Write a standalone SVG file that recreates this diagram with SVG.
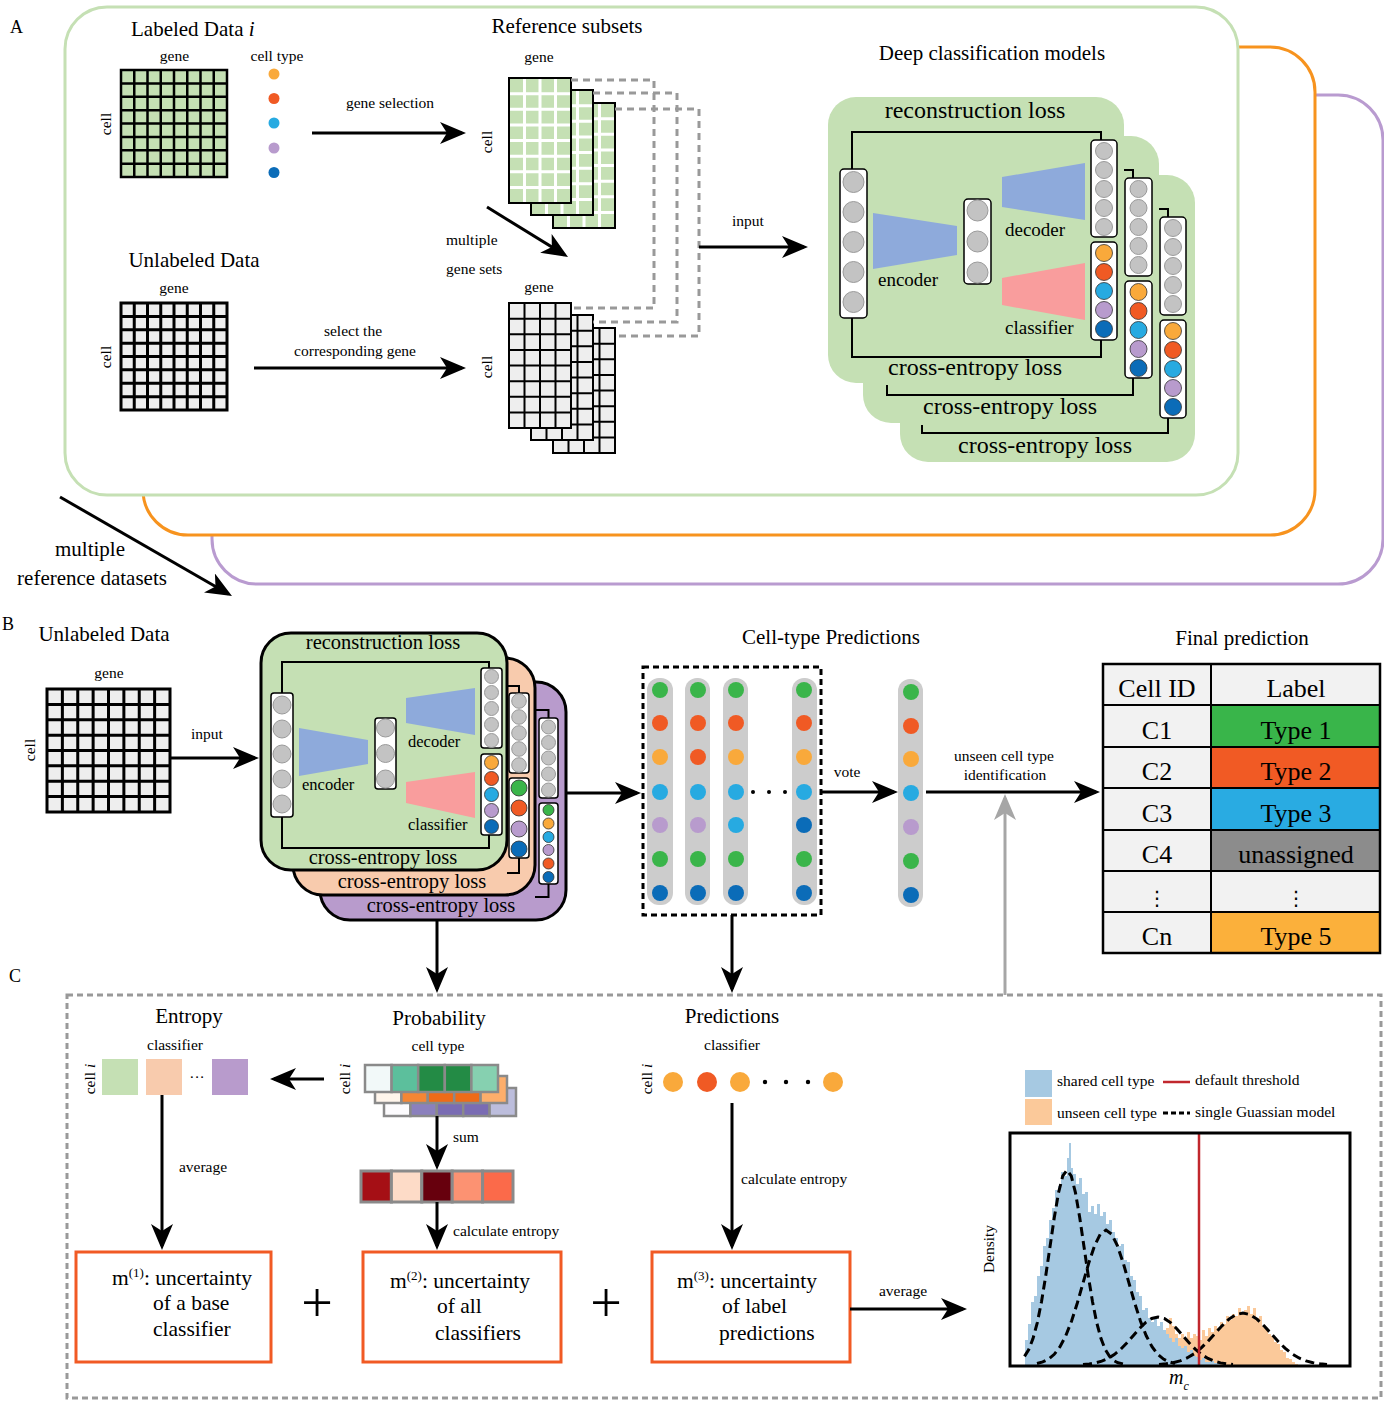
<svg xmlns="http://www.w3.org/2000/svg" xmlns:xlink="http://www.w3.org/1999/xlink" width="1384" height="1401" viewBox="0 0 1384 1401">
<style>
text{font-family:"Liberation Serif","Times New Roman",serif;fill:#000}
.s15{font-size:15.5px}
.s21{font-size:21px}
.s24{font-size:24px}
.s19{font-size:19px}
.s20b{font-size:20.5px}
.s16{font-size:16.5px}
.s26{font-size:26px}
.s22{font-size:21.5px}
.m{text-anchor:middle}
.ln{stroke:#000;stroke-width:3;fill:none}
.arr{stroke:#000;stroke-width:3;fill:none;marker-end:url(#ah)}
.br{stroke:#000;stroke-width:2;fill:none}
.box{fill:#fff;stroke:#000;stroke-width:1.5}
.gc{fill:#c3c3c3;stroke:#9a9a9a;stroke-width:1}
.cc{stroke:#333;stroke-width:0.8}
.OR{fill:#f9a93b}.RD{fill:#f05a24}.SK{fill:#27aae1}.PU{fill:#b89bcd}.BL{fill:#0b6cb8}.GR{fill:#3ab54a}
.enc{fill:#8eaadb}.cls{fill:#f99d9d}
.pc{fill:#cccccc}
.ob{fill:#fff;stroke:#f15a24;stroke-width:3}
.gd{stroke:#999;stroke-width:3;fill:none;stroke-dasharray:7 5}
</style>
<defs>
<marker id="ah" markerUnits="userSpaceOnUse" markerWidth="26" markerHeight="22" refX="22" refY="11" orient="auto" viewBox="0 0 26 22"><path d="M0,0 L26,11 L0,22 L7,11 Z" fill="#000"/></marker>
<marker id="ahg" markerUnits="userSpaceOnUse" markerWidth="26" markerHeight="22" refX="22" refY="11" orient="auto" viewBox="0 0 26 22"><path d="M0,0 L26,11 L0,22 L7,11 Z" fill="#a6a6a6"/></marker>
<path id="g8" d="M0,0H8V8H0Z M1,0V8M2,0V8M3,0V8M4,0V8M5,0V8M6,0V8M7,0V8 M0,1H8M0,2H8M0,3H8M0,4H8M0,5H8M0,6H8M0,7H8" vector-effect="non-scaling-stroke"/>
<path id="g48" d="M1,0V8M2,0V8M3,0V8 M0,1H4M0,2H4M0,3H4M0,4H4M0,5H4M0,6H4M0,7H4" vector-effect="non-scaling-stroke"/>
</defs>
<rect width="1384" height="1401" fill="#fff"/>

<!-- Panel A frames -->
<g id="panelA-frames">
<rect x="212" y="95" width="1171" height="489" rx="45" fill="#fff" stroke="#b99bd0" stroke-width="3"/>
<rect x="143" y="47" width="1172" height="488" rx="45" fill="#fff" stroke="#f7931e" stroke-width="3"/>
<rect x="65" y="7" width="1173" height="488" rx="42" fill="#fff" stroke="#c5e0b4" stroke-width="3"/>
</g>
<text x="10" y="33" style="font-size:18px">A</text>

<g id="labeled-data">
<text x="131" y="36" class="s21">Labeled Data <tspan font-style="italic">i</tspan></text>
<text x="174.5" y="61" class="s15 m">gene</text>
<text transform="translate(111,124) rotate(-90)" class="s15 m">cell</text>
<use href="#g8" transform="translate(121,70) scale(13.25,13.375)" fill="#c5e0b4" stroke="#000" stroke-width="2.5"/>
<text x="277" y="61" class="s15 m">cell type</text>
<circle cx="274" cy="74" r="5.5" class="OR"/>
<circle cx="274" cy="98.5" r="5.5" class="RD"/>
<circle cx="274" cy="123" r="5.5" class="SK"/>
<circle cx="274" cy="148" r="5.5" class="PU"/>
<circle cx="274" cy="172.5" r="5.5" class="BL"/>
</g>

<g id="unlabeled-data-A">
<text x="194" y="267" class="s21 m">Unlabeled Data</text>
<text x="174" y="293" class="s15 m">gene</text>
<text transform="translate(111,357) rotate(-90)" class="s15 m">cell</text>
<use href="#g8" transform="translate(121,303) scale(13.25,13.375)" fill="#eeeeee" stroke="#000" stroke-width="3"/>
</g>

<g id="reference-subsets">
<text x="567" y="33" class="s21 m">Reference subsets</text>
<text x="539" y="62" class="s15 m">gene</text>
<text transform="translate(492,142) rotate(-90)" class="s15 m">cell</text>
<rect x="553" y="103" width="62" height="125" fill="#c5e0b4"/>
<use href="#g48" transform="translate(553,103) scale(15.5,15.625)" stroke="#fff" stroke-width="3" fill="none"/>
<rect x="553" y="103" width="62" height="125" fill="none" stroke="#000" stroke-width="2"/>
<rect x="531" y="90" width="62" height="125" fill="#c5e0b4"/>
<use href="#g48" transform="translate(531,90) scale(15.5,15.625)" stroke="#fff" stroke-width="3" fill="none"/>
<rect x="531" y="90" width="62" height="125" fill="none" stroke="#000" stroke-width="2"/>
<rect x="509" y="78" width="62" height="125" fill="#c5e0b4"/>
<use href="#g48" transform="translate(509,78) scale(15.5,15.625)" stroke="#fff" stroke-width="3" fill="none"/>
<rect x="509" y="78" width="62" height="125" fill="none" stroke="#000" stroke-width="2"/>

<text x="539" y="292" class="s15 m">gene</text>
<text transform="translate(492,367) rotate(-90)" class="s15 m">cell</text>
<rect x="553" y="328" width="62" height="125" fill="#eeeeee" stroke="#000" stroke-width="2"/>
<use href="#g48" transform="translate(553,328) scale(15.5,15.625)" stroke="#000" stroke-width="2" fill="none"/>
<rect x="531" y="315" width="62" height="125" fill="#eeeeee" stroke="#000" stroke-width="2"/>
<use href="#g48" transform="translate(531,315) scale(15.5,15.625)" stroke="#000" stroke-width="2" fill="none"/>
<rect x="509" y="303" width="62" height="125" fill="#eeeeee" stroke="#000" stroke-width="2"/>
<use href="#g48" transform="translate(509,303) scale(15.5,15.625)" stroke="#000" stroke-width="2" fill="none"/>
</g>

<g id="deep-models-A">
<text x="992" y="60" class="s21 m">Deep classification models</text>
<rect x="900" y="175" width="295" height="287" rx="28" fill="#c5e0b4"/>
<rect x="863" y="136" width="296" height="287" rx="28" fill="#c5e0b4"/>
<rect x="828" y="97" width="296" height="286" rx="28" fill="#c5e0b4"/>
<!-- panel 3 -->
<path class="br" d="M1159,209 H1168 V217 M1168,418 V433 H922 V425"/>
<rect x="1160" y="217" width="26" height="98" rx="4" class="box"/>
<circle cx="1173" cy="228" r="8.5" class="gc"/><circle cx="1173" cy="247" r="8.5" class="gc"/><circle cx="1173" cy="266" r="8.5" class="gc"/><circle cx="1173" cy="285" r="8.5" class="gc"/><circle cx="1173" cy="304" r="8.5" class="gc"/>
<rect x="1160" y="320" width="26" height="98" rx="4" class="box"/>
<circle cx="1173" cy="331" r="8.5" class="OR cc"/><circle cx="1173" cy="350" r="8.5" class="RD cc"/><circle cx="1173" cy="369" r="8.5" class="SK cc"/><circle cx="1173" cy="388" r="8.5" class="PU cc"/><circle cx="1173" cy="407" r="8.5" class="BL cc"/>
<text x="1045" y="453" class="s24 m">cross-entropy loss</text>
<!-- panel 2 -->
<path class="br" d="M1124,170 H1133 V178 M1133,378 V395 H887 V385"/>
<rect x="1125" y="178" width="27" height="98" rx="4" class="box"/>
<circle cx="1138.5" cy="189" r="8.5" class="gc"/><circle cx="1138.5" cy="208" r="8.5" class="gc"/><circle cx="1138.5" cy="227" r="8.5" class="gc"/><circle cx="1138.5" cy="246" r="8.5" class="gc"/><circle cx="1138.5" cy="265" r="8.5" class="gc"/>
<rect x="1125" y="281" width="27" height="97" rx="4" class="box"/>
<circle cx="1138.5" cy="292" r="8.5" class="OR cc"/><circle cx="1138.5" cy="311" r="8.5" class="RD cc"/><circle cx="1138.5" cy="330" r="8.5" class="SK cc"/><circle cx="1138.5" cy="349" r="8.5" class="PU cc"/><circle cx="1138.5" cy="368" r="8.5" class="BL cc"/>
<text x="1010" y="414" class="s24 m">cross-entropy loss</text>
<!-- panel 1 -->
<text x="975" y="118" class="s24 m">reconstruction loss</text>
<path class="br" d="M852,169 V132 H1101 V140 M852,318 V357 H1101 V340"/>
<rect x="840" y="169" width="27" height="149" rx="4" class="box"/>
<circle cx="853.5" cy="182" r="10.5" class="gc"/><circle cx="853.5" cy="212" r="10.5" class="gc"/><circle cx="853.5" cy="242" r="10.5" class="gc"/><circle cx="853.5" cy="272" r="10.5" class="gc"/><circle cx="853.5" cy="302" r="10.5" class="gc"/>
<polygon points="873,213 957,226 957,255 873,269" class="enc"/>
<text x="878" y="286" class="s19">encoder</text>
<rect x="964" y="199" width="27" height="85" rx="4" class="box"/>
<circle cx="977.5" cy="210.5" r="10.5" class="gc"/><circle cx="977.5" cy="241.5" r="10.5" class="gc"/><circle cx="977.5" cy="272.5" r="10.5" class="gc"/>
<polygon points="1002,177 1085,163 1085,220 1002,207" class="enc"/>
<text x="1005" y="236" class="s19">decoder</text>
<polygon points="1002,278 1085,263 1085,320 1002,305" class="cls"/>
<text x="1005" y="334" class="s19">classifier</text>
<rect x="1091" y="140" width="26" height="97" rx="4" class="box"/>
<circle cx="1104" cy="151" r="8.5" class="gc"/><circle cx="1104" cy="170" r="8.5" class="gc"/><circle cx="1104" cy="189" r="8.5" class="gc"/><circle cx="1104" cy="208" r="8.5" class="gc"/><circle cx="1104" cy="227" r="8.5" class="gc"/>
<rect x="1091" y="242" width="26" height="98" rx="4" class="box"/>
<circle cx="1104" cy="253" r="8.5" class="OR cc"/><circle cx="1104" cy="272" r="8.5" class="RD cc"/><circle cx="1104" cy="291" r="8.5" class="SK cc"/><circle cx="1104" cy="310" r="8.5" class="PU cc"/><circle cx="1104" cy="329" r="8.5" class="BL cc"/>
<text x="975" y="375" class="s24 m">cross-entropy loss</text>
</g>

<text x="90" y="556" class="s21 m">multiple</text>
<text x="92" y="585" class="s21 m">reference datasets</text>

<!-- Panel B -->
<text x="2" y="630" style="font-size:18px">B</text>
<g id="unlabeled-data-B">
<text x="104" y="641" class="s21 m">Unlabeled Data</text>
<text x="109" y="678" class="s15 m">gene</text>
<text transform="translate(35,750) rotate(-90)" class="s15 m">cell</text>
<use href="#g8" transform="translate(47,689) scale(15.375,15.375)" fill="#eeeeee" stroke="#000" stroke-width="3"/>
</g>

<g id="models-B">
<rect x="320" y="682" width="246" height="238" rx="30" fill="#b89bcc" stroke="#000" stroke-width="3"/>
<path class="br" d="M535,710 H548.5 V718 M548.5,884 V897 H535"/>
<rect x="539" y="718" width="19" height="80" rx="3" class="box"/>
<circle cx="548.5" cy="727" r="7" class="gc"/><circle cx="548.5" cy="742.5" r="7" class="gc"/><circle cx="548.5" cy="758" r="7" class="gc"/><circle cx="548.5" cy="774" r="7" class="gc"/><circle cx="548.5" cy="790" r="7" class="gc"/>
<rect x="539" y="803" width="19" height="81" rx="3" class="box"/>
<circle cx="548.5" cy="810" r="5.5" class="GR cc"/><circle cx="548.5" cy="823.5" r="5.5" class="OR cc"/><circle cx="548.5" cy="837" r="5.5" class="SK cc"/><circle cx="548.5" cy="850" r="5.5" class="PU cc"/><circle cx="548.5" cy="863.5" r="5.5" class="RD cc"/><circle cx="548.5" cy="877" r="5.5" class="BL cc"/>
<text x="441" y="912" class="s20b m">cross-entropy loss</text>

<rect x="293" y="658" width="242" height="237" rx="30" fill="#f8cbad" stroke="#000" stroke-width="3"/>
<path class="br" d="M507,686 H519 V693 M519,858 V873 H507"/>
<rect x="509" y="693" width="20" height="80" rx="3" class="box"/>
<circle cx="519" cy="701" r="7.3" class="gc"/><circle cx="519" cy="717" r="7.3" class="gc"/><circle cx="519" cy="733" r="7.3" class="gc"/><circle cx="519" cy="749" r="7.3" class="gc"/><circle cx="519" cy="765" r="7.3" class="gc"/>
<rect x="509" y="778" width="20" height="80" rx="3" class="box"/>
<circle cx="519" cy="788" r="8" class="GR cc"/><circle cx="519" cy="808" r="8" class="RD cc"/><circle cx="519" cy="829" r="8" class="PU cc"/><circle cx="519" cy="849" r="8" class="BL cc"/>
<text x="412" y="888" class="s20b m">cross-entropy loss</text>

<rect x="261" y="633" width="246" height="237" rx="30" fill="#c5e0b4" stroke="#000" stroke-width="3"/>
<text x="383" y="649" class="s20b m">reconstruction loss</text>
<path class="br" d="M282,693 V662 H489 V668 M282,817 V848 H489 V835"/>
<rect x="271" y="693" width="22" height="124" rx="3" class="box"/>
<circle cx="282" cy="705" r="9" class="gc"/><circle cx="282" cy="729" r="9" class="gc"/><circle cx="282" cy="754" r="9" class="gc"/><circle cx="282" cy="779" r="9" class="gc"/><circle cx="282" cy="804" r="9" class="gc"/>
<polygon points="299,728 368,740 368,764 299,776" class="enc"/>
<text x="302" y="790" class="s16">encoder</text>
<rect x="375" y="718" width="21" height="71" rx="3" class="box"/>
<circle cx="385.5" cy="728" r="9" class="gc"/><circle cx="385.5" cy="753.5" r="9" class="gc"/><circle cx="385.5" cy="779" r="9" class="gc"/>
<polygon points="406,698 475,688 475,735 406,723" class="enc"/>
<text x="408" y="747" class="s16">decoder</text>
<polygon points="406,782 475,772 475,818 406,803" class="cls"/>
<text x="408" y="830" class="s16">classifier</text>
<rect x="481" y="668" width="21" height="80" rx="3" class="box"/>
<circle cx="491.5" cy="676.5" r="7" class="gc"/><circle cx="491.5" cy="692.5" r="7" class="gc"/><circle cx="491.5" cy="708.5" r="7" class="gc"/><circle cx="491.5" cy="724.5" r="7" class="gc"/><circle cx="491.5" cy="740.5" r="7" class="gc"/>
<rect x="481" y="754" width="21" height="81" rx="3" class="box"/>
<circle cx="491.5" cy="762.5" r="7" class="OR cc"/><circle cx="491.5" cy="778.5" r="7" class="RD cc"/><circle cx="491.5" cy="794.5" r="7" class="SK cc"/><circle cx="491.5" cy="810.5" r="7" class="PU cc"/><circle cx="491.5" cy="826.5" r="7" class="BL cc"/>
<text x="383" y="864" class="s20b m">cross-entropy loss</text>
</g>

<g id="cell-type-predictions">
<text x="831" y="644" class="s21 m">Cell-type Predictions</text>
<rect x="643" y="667" width="178" height="248" fill="none" stroke="#000" stroke-width="3" stroke-dasharray="6 4"/>
<rect x="647" y="678" width="26" height="227" rx="12" class="pc"/>
<rect x="685" y="678" width="25" height="227" rx="12" class="pc"/>
<rect x="723" y="678" width="25" height="227" rx="12" class="pc"/>
<rect x="792" y="678" width="25" height="227" rx="12" class="pc"/>
<g>
<circle cx="660" cy="690" r="8" class="GR"/><circle cx="660" cy="723" r="8" class="RD"/><circle cx="660" cy="757" r="8" class="OR"/><circle cx="660" cy="792" r="8" class="SK"/><circle cx="660" cy="825" r="8" class="PU"/><circle cx="660" cy="859" r="8" class="GR"/><circle cx="660" cy="893" r="8" class="BL"/>
<circle cx="698" cy="690" r="8" class="GR"/><circle cx="698" cy="723" r="8" class="RD"/><circle cx="698" cy="757" r="8" class="RD"/><circle cx="698" cy="792" r="8" class="SK"/><circle cx="698" cy="825" r="8" class="PU"/><circle cx="698" cy="859" r="8" class="GR"/><circle cx="698" cy="893" r="8" class="BL"/>
<circle cx="736" cy="690" r="8" class="GR"/><circle cx="736" cy="723" r="8" class="RD"/><circle cx="736" cy="757" r="8" class="OR"/><circle cx="736" cy="792" r="8" class="SK"/><circle cx="736" cy="825" r="8" class="SK"/><circle cx="736" cy="859" r="8" class="GR"/><circle cx="736" cy="893" r="8" class="BL"/>
<circle cx="804" cy="690" r="8" class="GR"/><circle cx="804" cy="723" r="8" class="RD"/><circle cx="804" cy="757" r="8" class="OR"/><circle cx="804" cy="792" r="8" class="SK"/><circle cx="804" cy="825" r="8" class="BL"/><circle cx="804" cy="859" r="8" class="GR"/><circle cx="804" cy="893" r="8" class="BL"/>
<circle cx="753" cy="792" r="2"/><circle cx="769" cy="792" r="2"/><circle cx="785" cy="792" r="2"/>
</g>
</g>

<g id="voted-prediction">
<rect x="898" y="679" width="25" height="228" rx="12" class="pc"/>
<circle cx="911" cy="692" r="8" class="GR"/><circle cx="911" cy="726" r="8" class="RD"/><circle cx="911" cy="759" r="8" class="OR"/><circle cx="911" cy="793" r="8" class="SK"/><circle cx="911" cy="827" r="8" class="PU"/><circle cx="911" cy="861" r="8" class="GR"/><circle cx="911" cy="895" r="8" class="BL"/>
</g>

<g id="final-prediction">
<text x="1242" y="645" class="s21 m">Final prediction</text>
<rect x="1103" y="664" width="277" height="289" fill="#f2f2f2"/>
<rect x="1211" y="705" width="169" height="42" fill="#39b54a"/>
<rect x="1211" y="747" width="169" height="41" fill="#f15a24"/>
<rect x="1211" y="788" width="169" height="42" fill="#29abe2"/>
<rect x="1211" y="830" width="169" height="41" fill="#8c8c8c"/>
<rect x="1211" y="912" width="169" height="41" fill="#fbb03b"/>
<path d="M1103,705H1380M1103,747H1380M1103,788H1380M1103,830H1380M1103,871H1380M1103,912H1380M1211,664V953" stroke="#000" stroke-width="2" fill="none"/>
<rect x="1103" y="664" width="277" height="289" fill="none" stroke="#000" stroke-width="2.5"/>
<text x="1157" y="697" class="s26 m">Cell ID</text><text x="1296" y="697" class="s26 m">Label</text>
<text x="1157" y="739" class="s26 m">C1</text><text x="1296" y="739" class="s26 m">Type 1</text>
<text x="1157" y="780" class="s26 m">C2</text><text x="1296" y="780" class="s26 m">Type 2</text>
<text x="1157" y="822" class="s26 m">C3</text><text x="1296" y="822" class="s26 m">Type 3</text>
<text x="1157" y="863" class="s26 m">C4</text><text x="1296" y="863" class="s26 m">unassigned</text>
<text x="1157" y="905" class="m" style="font-family:'DejaVu Sans',sans-serif;font-size:20px">⋮</text><text x="1296" y="905" class="m" style="font-family:'DejaVu Sans',sans-serif;font-size:20px">⋮</text>
<text x="1157" y="945" class="s26 m">Cn</text><text x="1296" y="945" class="s26 m">Type 5</text>
</g>

<!-- Panel C -->
<text x="9" y="982" style="font-size:18px">C</text>
<rect id="panelC-frame" x="67" y="995" width="1314" height="403" fill="none" stroke="#999" stroke-width="3" stroke-dasharray="6 4"/>

<g id="entropy">
<text x="189" y="1023" class="s21 m">Entropy</text>
<text x="175" y="1050" class="s15 m">classifier</text>
<text transform="translate(95,1079) rotate(-90)" class="s15 m">cell <tspan font-style="italic">i</tspan></text>
<rect x="102" y="1059" width="36" height="36" fill="#c5e0b4"/>
<rect x="146" y="1059" width="36" height="36" fill="#f8cbad"/>
<text x="197" y="1082" class="s15 m">···</text>
<rect x="212" y="1059" width="36" height="36" fill="#b89bcc"/>
</g>

<g id="probability">
<text x="439" y="1025" class="s21 m">Probability</text>
<text x="438" y="1051" class="s15 m">cell type</text>
<text transform="translate(350,1079) rotate(-90)" class="s15 m">cell <tspan font-style="italic">i</tspan></text>
<g stroke="#8a8a8a" stroke-width="2.5">
<rect x="384" y="1088" width="26.4" height="28" fill="#fcfbfd"/><rect x="410.4" y="1088" width="26.4" height="28" fill="#8b80bd"/><rect x="436.8" y="1088" width="26.4" height="28" fill="#7a6cb3"/><rect x="463.2" y="1088" width="26.4" height="28" fill="#7a6cb3"/><rect x="489.6" y="1088" width="26.4" height="28" fill="#bcbddc"/>
<rect x="375" y="1076" width="26.4" height="27" fill="#fff5eb"/><rect x="401.4" y="1076" width="26.4" height="27" fill="#f58634"/><rect x="427.8" y="1076" width="26.4" height="27" fill="#ee6b18"/><rect x="454.2" y="1076" width="26.4" height="27" fill="#ee6b18"/><rect x="480.6" y="1076" width="26.4" height="27" fill="#fdae6b"/>
<rect x="365" y="1065" width="26.6" height="27" fill="#f2f9f9"/><rect x="391.6" y="1065" width="26.6" height="27" fill="#5cbf9c"/><rect x="418.2" y="1065" width="26.6" height="27" fill="#238b45"/><rect x="444.8" y="1065" width="26.6" height="27" fill="#238b45"/><rect x="471.4" y="1065" width="26.6" height="27" fill="#86d0b0"/>
</g>
<text x="453" y="1142" class="s15">sum</text>
<g stroke="#8a8a8a" stroke-width="3">
<rect x="361" y="1171" width="30.4" height="31" fill="#a50f15"/><rect x="391.4" y="1171" width="30.4" height="31" fill="#fddbc7"/><rect x="421.8" y="1171" width="30.4" height="31" fill="#67000d"/><rect x="452.2" y="1171" width="30.4" height="31" fill="#fc9272"/><rect x="482.6" y="1171" width="30.4" height="31" fill="#fb6a4a"/>
</g>
<text x="453" y="1236" class="s15">calculate entropy</text>
</g>

<g id="predictions-C">
<text x="732" y="1023" class="s21 m">Predictions</text>
<text x="732" y="1050" class="s15 m">classifier</text>
<text transform="translate(652,1079) rotate(-90)" class="s15 m">cell <tspan font-style="italic">i</tspan></text>
<circle cx="673" cy="1082" r="10" class="OR"/><circle cx="707" cy="1082" r="10" class="RD"/><circle cx="740" cy="1082" r="10" class="OR"/>
<circle cx="765" cy="1082" r="2.2"/><circle cx="786" cy="1082" r="2.2"/><circle cx="808" cy="1082" r="2.2"/>
<circle cx="833" cy="1082" r="10" class="OR"/>
<text x="741" y="1184" class="s15">calculate entropy</text>
</g>

<g id="m1">
<rect x="76" y="1252" width="195" height="110" class="ob"/>
<text x="112" y="1285" class="s22">m<tspan dy="-8" style="font-size:13px">(1)</tspan><tspan dy="8">: uncertainty</tspan></text>
<text x="153" y="1310" class="s22">of a base</text>
<text x="153" y="1336" class="s22">classifier</text>
<text x="203" y="1172" class="s15 m">average</text>
</g>
<text x="317" y="1322" class="m" style="font-size:56px">+</text>
<g id="m2">
<rect x="363" y="1252" width="198" height="110" class="ob"/>
<text x="390" y="1288" class="s22">m<tspan dy="-8" style="font-size:13px">(2)</tspan><tspan dy="8">: uncertainty</tspan></text>
<text x="437" y="1313" class="s22">of all</text>
<text x="435" y="1340" class="s22">classifiers</text>
</g>
<text x="606" y="1322" class="m" style="font-size:56px">+</text>
<g id="m3">
<rect x="652" y="1252" width="198" height="110" class="ob"/>
<text x="677" y="1288" class="s22">m<tspan dy="-8" style="font-size:13px">(3)</tspan><tspan dy="8">: uncertainty</tspan></text>
<text x="722" y="1313" class="s22">of label</text>
<text x="719" y="1340" class="s22">predictions</text>
</g>
<text x="903" y="1296" class="s15 m">average</text>

<g id="density-plot">
<rect x="1025" y="1070" width="27" height="27" fill="#a6c9e2"/>
<rect x="1025" y="1099" width="27" height="26" fill="#fbc99a"/>
<text x="1057" y="1086" class="s15">shared cell type</text>
<text x="1057" y="1118" class="s15">unseen cell type</text>
<line x1="1163" y1="1082" x2="1190" y2="1082" stroke="#c1272d" stroke-width="2.5"/>
<line x1="1163" y1="1113" x2="1190" y2="1113" stroke="#000" stroke-width="3" stroke-dasharray="5 3"/>
<text x="1195" y="1085" class="s15">default threshold</text>
<text x="1195" y="1117" class="s15">single Guassian model</text>
<text transform="translate(994,1249) rotate(-90)" class="s15 m">Density</text>
<path fill="#fbc99a" d="M1160,1365 V1350 H1163 V1340 H1166 V1328 H1169 V1318 H1172 V1326 H1175 V1334 H1178 V1338 H1181 V1334 H1184 V1340 H1187 V1332 H1190 V1338 H1193 V1334 H1196 V1336 H1199 V1340 H1202 V1330 H1205 V1336 H1208 V1328 H1211 V1332 H1214 V1326 H1217 V1328 H1220 V1322 H1223 V1324 H1226 V1316 H1229 V1320 H1232 V1314 H1235 V1316 H1238 V1308 H1241 V1314 H1244 V1310 H1247 V1306 H1250 V1314 H1253 V1308 H1256 V1318 H1259 V1316 H1262 V1326 H1265 V1328 H1268 V1334 H1271 V1336 H1274 V1342 H1277 V1344 H1280 V1350 H1283 V1352 H1286 V1358 H1289 V1359 H1292 V1362 H1295 V1364 H1298 V1365 Z"/>
<path fill="#a6c9e2" d="M1025,1365 V1340 H1028 V1324 H1031 V1302 H1034 V1296 H1037 V1276 H1040 V1266 H1043 V1246 H1046 V1238 H1049 V1220 H1052 V1208 H1055 V1190 H1058 V1186 H1061 V1172 H1064 V1176 H1067 V1158 H1069 V1143 H1071 V1168 H1073 V1174 H1076 V1184 H1079 V1178 H1082 V1194 H1085 V1192 H1088 V1212 H1091 V1206 H1094 V1214 H1097 V1204 H1100 V1216 H1103 V1212 H1106 V1224 H1109 V1220 H1112 V1232 H1115 V1238 H1118 V1246 H1121 V1244 H1124 V1260 H1127 V1262 H1130 V1276 H1133 V1280 H1136 V1292 H1139 V1296 H1142 V1310 H1145 V1308 H1148 V1318 H1151 V1322 H1154 V1318 H1157 V1326 H1160 V1322 H1163 V1330 H1166 V1334 H1169 V1338 H1172 V1342 H1175 V1338 H1178 V1346 H1181 V1348 H1184 V1346 H1187 V1352 H1190 V1350 H1193 V1356 H1196 V1357 H1199 V1360 H1202 V1358 H1205 V1362 H1210 V1361 H1214 V1363 H1220 V1365 Z"/>
<g fill="none" stroke="#000" stroke-width="3" stroke-dasharray="9 5">
<polyline points="1024.5,1356.4 1028.75,1349.5 1033,1338.6 1037.25,1322.8 1041.5,1301.7 1045.75,1275.7 1050,1246.7 1054.25,1217.8 1058.5,1192.9 1062.75,1176 1067,1170 1071.25,1176 1075.5,1192.9 1079.75,1217.8 1084,1246.7 1088.25,1275.7 1092.5,1301.7 1096.75,1322.8 1101,1338.6 1105.25,1349.5 1109.5,1356.4 1113.75,1360.6 1118,1362.8 1126.5,1364.6"/>
<polyline points="1037,1363.5 1042.75,1361.9 1048.5,1359.1 1054.25,1354.3 1060,1346.7 1065.75,1335.8 1071.5,1321.2 1077.25,1303.2 1083,1283.1 1088.75,1263.1 1094.5,1245.9 1100.25,1234.2 1106,1230 1111.75,1234.2 1117.5,1245.9 1123.25,1263.1 1129,1283.1 1134.75,1303.2 1140.5,1321.2 1146.25,1335.8 1152,1346.7 1157.75,1354.3 1163.5,1359.1 1169.25,1361.9 1175,1363.5"/>
<polyline points="1083,1364.5 1089.25,1363.9 1095.5,1362.9 1101.75,1361.2 1108,1358.5 1114.25,1354.6 1120.5,1349.4 1126.75,1343 1133,1335.9 1139.25,1328.8 1145.5,1322.6 1151.75,1318.5 1158,1317 1164.25,1318.5 1170.5,1322.6 1176.75,1328.8 1183,1335.9 1189.25,1343 1195.5,1349.4 1201.75,1354.6 1208,1358.5 1214.25,1361.2 1220.5,1362.9 1226.75,1363.9 1233,1364.5"/>
<polyline points="1159,1364.4 1166,1363.8 1173,1362.7 1180,1360.9 1187,1358 1194,1353.8 1201,1348.1 1208,1341.2 1215,1333.5 1222,1325.8 1229,1319.1 1236,1314.6 1243,1313 1250,1314.6 1257,1319.1 1264,1325.8 1271,1333.5 1278,1341.2 1285,1348.1 1292,1353.8 1299,1358 1306,1360.9 1313,1362.7 1320,1363.8 1327,1364.4"/>
</g>
<line x1="1199" y1="1133" x2="1199" y2="1366" stroke="#c1272d" stroke-width="2.5"/>
<rect x="1010" y="1133" width="340" height="233" fill="none" stroke="#000" stroke-width="3"/>
<text x="1169" y="1384" style="font-size:20px;font-style:italic">m<tspan dy="6" style="font-size:12px">c</tspan></text>
</g>

<g id="connectors">
<path class="gd" d="M571,80 H654 V308 H571"/>
<path class="gd" d="M593,93 H677 V322 H593"/>
<path class="gd" d="M615,109 H699 V336 H615"/>
<path class="arr" d="M312,133 H462"/>
<text x="390" y="108" class="s15 m">gene selection</text>
<path class="arr" d="M254,368 H462"/>
<text x="353" y="336" class="s15 m">select the</text>
<text x="355" y="356" class="s15 m">corresponding gene</text>
<path class="arr" d="M487,207 L564.6,254.9"/>
<text x="446" y="245" class="s15">multiple</text>
<text x="446" y="274" class="s15">gene sets</text>
<path class="arr" d="M699,247 H804"/>
<text x="748" y="226" class="s15 m">input</text>
<path class="arr" d="M60,497 L228.5,594"/>
<path class="arr" d="M170,758 H255"/>
<text x="207" y="739" class="s15 m">input</text>
<path class="arr" d="M566,793 H637"/>
<path class="arr" d="M821,792 H894"/>
<text x="847" y="777" class="s15 m">vote</text>
<path class="arr" d="M926,792 H1096"/>
<text x="1004" y="761" class="s15 m">unseen cell type</text>
<text x="1005" y="780" class="s15 m">identification</text>
<path d="M1005,995 V798" stroke="#a6a6a6" stroke-width="3" fill="none" marker-end="url(#ahg)"/>
<path class="arr" d="M437,920 V989"/>
<path class="arr" d="M732,915 V989"/>
<path class="arr" d="M324,1079 H274"/>
<path class="arr" d="M162,1095 V1246"/>
<path class="arr" d="M437,1116 V1166"/>
<path class="arr" d="M437,1202 V1246"/>
<path class="arr" d="M732,1103 V1246"/>
<path class="arr" d="M850,1309 H963"/>
</g>
</svg>
